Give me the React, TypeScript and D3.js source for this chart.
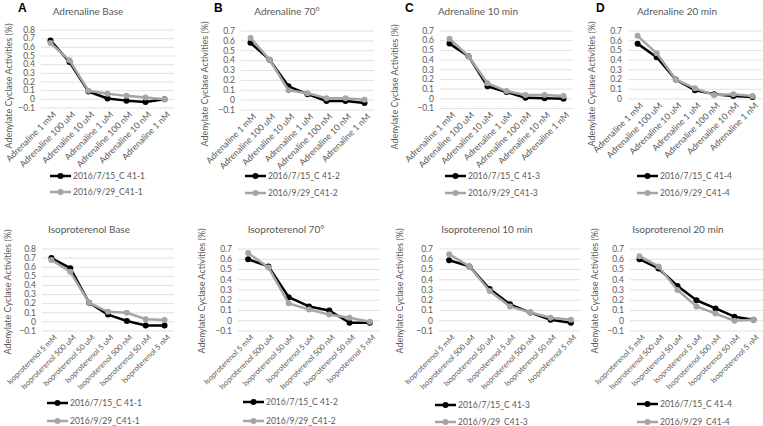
import React from "react";
import * as d3 from "d3";

const adrCats = ["Adrenaline 1 mM", "Adrenaline 100 uM", "Adrenaline 10 uM", "Adrenaline 1 uM", "Adrenaline 100 nM", "Adrenaline 10 nM", "Adrenaline 1 nM"];
const isoCats = ["Isoproterenol 5 mM", "Isoproterenol 500 uM", "Isoproterenol 50 uM", "Isoproterenol 5 uM", "Isoproterenol 500 nM", "Isoproterenol 50 nM", "Isoproterenol 5 nM"];

const titles = ["Adrenaline Base", "Adrenaline 70°", "Adrenaline 10 min", "Adrenaline 20 min", "Isoproterenol Base", "Isoproterenol 70°", "Isoproterenol 10 min", "Isoproterenol 20 min"];
const letters = ["A", "B", "C", "D"];
const seriesA = ["2016/7/15_C 41-1", "2016/7/15_C 41-2", "2016/7/15_C 41-3", "2016/7/15_C 41-4"];
const seriesB = ["2016/9/29_C41-1", "2016/9/29_C41-2", "2016/9/29_C41-3", "2016/9/29_C41-4"];

const yMaxs = [0.8, 0.7, 0.7, 0.7, 0.8, 0.7, 0.7, 0.7];
const yMins = [-0.1, -0.1, -0.1, 0, -0.1, -0.1, -0.1, -0.1];

const blackVals = [
  [0.68, 0.43, 0.09, 0.01, -0.015, -0.03, 0.0],
  [0.58, 0.41, 0.14, 0.06, -0.01, -0.01, -0.03],
  [0.57, 0.44, 0.13, 0.07, 0.01, 0.005, 0.0],
  [0.57, 0.43, 0.2, 0.09, 0.05, 0.03, 0.02],
  [0.7, 0.59, 0.21, 0.08, 0.01, -0.04, -0.04],
  [0.6, 0.53, 0.23, 0.14, 0.1, -0.02, -0.02],
  [0.59, 0.53, 0.31, 0.16, 0.08, 0.01, -0.02],
  [0.6, 0.51, 0.34, 0.2, 0.12, 0.04, 0.01],
];
const grayVals = [
  [0.65, 0.45, 0.1, 0.065, 0.04, 0.02, 0.0],
  [0.63, 0.41, 0.1, 0.07, 0.02, 0.02, 0.005],
  [0.62, 0.44, 0.16, 0.08, 0.04, 0.04, 0.03],
  [0.65, 0.47, 0.2, 0.11, 0.04, 0.05, 0.03],
  [0.68, 0.55, 0.21, 0.11, 0.1, 0.03, 0.02],
  [0.66, 0.52, 0.17, 0.11, 0.06, 0.03, -0.01],
  [0.65, 0.53, 0.29, 0.14, 0.08, 0.03, 0.01],
  [0.63, 0.53, 0.3, 0.14, 0.07, 0.0, 0.01],
];

// layout per panel
const layout = [
  { x0: 41, x1: 174, yTop: 30, yBot: 108, titleX: 88, titleY: 15, axX: 9, axY: 86, legX: 50, legY1: 176, legY2: 192, letX: 18 },
  { x0: 241, x1: 374, yTop: 31, yBot: 110, titleX: 287, titleY: 15, axX: 205, axY: 84, legX: 245, legY1: 176, legY2: 193, letX: 214 },
  { x0: 440, x1: 573, yTop: 31, yBot: 108.5, titleX: 478, titleY: 15, axX: 395, axY: 87, legX: 445, legY1: 176, legY2: 193, letX: 405 },
  { x0: 628, x1: 762, yTop: 31, yBot: 99, titleX: 677, titleY: 15, axX: 592, axY: 84, legX: 637, legY1: 176, legY2: 193, letX: 596 },
  { x0: 42, x1: 174, yTop: 249, yBot: 331, titleX: 89, titleY: 233, axX: 8, axY: 292, legX: 47, legY1: 403, legY2: 421, letX: 0 },
  { x0: 238, x1: 380, yTop: 249, yBot: 331, titleX: 286, titleY: 233, axX: 202, axY: 291, legX: 243, legY1: 402, legY2: 421, letX: 0 },
  { x0: 439, x1: 581, yTop: 249, yBot: 331, titleX: 487, titleY: 233, axX: 400, axY: 291, legX: 435, legY1: 405, legY2: 422, letX: 0 },
  { x0: 630, x1: 763, yTop: 249, yBot: 331, titleX: 678, titleY: 233, axX: 595, axY: 291, legX: 637, legY1: 404, legY2: 422, letX: 0 },
];

const FONT = "Lato, 'Open Sans', sans-serif";
const TXT = "#595959";
const GRAY = "#a5a5a5";

function Panel({ i }: { i: number }) {
  const L = layout[i];
  const cats = i < 4 ? adrCats : isoCats;
  const catFont = i < 4 ? 8.8 : 7.7;
  const x = d3.scalePoint<string>().domain(cats).range([L.x0, L.x1]).padding(0.5);
  const y = d3.scaleLinear().domain([yMins[i], yMaxs[i]]).range([L.yBot, L.yTop]);
  const ticks = d3.range(Math.round(yMins[i] * 10), Math.round(yMaxs[i] * 10) + 1).map((v) => v / 10);
  const line = d3
    .line<number>()
    .x((_, j) => x(cats[j]) as number)
    .y((d) => y(d));
  const fmt = (v: number) => (v === 0 ? "0" : d3.format(".1f")(v));
  const series = [
    { vals: blackVals[i], color: "#000", name: seriesA[i % 4] },
    { vals: grayVals[i], color: GRAY, name: seriesB[i % 4] },
  ];
  return (
    <g>
      {i < 4 && (
        <text x={L.letX} y={12} fontFamily="Arial, sans-serif" fontWeight="bold" fontSize={12} fill="#000">
          {letters[i]}
        </text>
      )}
      <text x={L.titleX} y={L.titleY} textAnchor="middle" fontFamily={FONT} fontSize={10} fill={TXT}>
        {titles[i]}
      </text>
      {ticks.map((t) => (
        <g key={t}>
          <line x1={L.x0} x2={L.x1} y1={y(t)} y2={y(t)} stroke="#d9d9d9" strokeWidth={0.8} />
          <text x={L.x0 - 6} y={y(t)} dy="0.33em" textAnchor="end" fontFamily={FONT} fontSize={8.5} fill={TXT}>
            {fmt(t)}
          </text>
        </g>
      ))}
      <text
        transform={`translate(${L.axX},${L.axY}) rotate(-90)`}
        textAnchor="middle"
        dy="0.35em"
        fontFamily={FONT}
        fontSize={9}
        fill={TXT}
      >
        Adenylate Cyclase Activities (%)
      </text>
      {cats.map((c) => (
        <text
          key={c}
          transform={`translate(${(x(c) as number) + 4},${L.yBot + 5}) rotate(-45)`}
          textAnchor="end"
          dy="0.35em"
          fontFamily={FONT}
          fontSize={catFont}
          fill={TXT}
        >
          {c}
        </text>
      ))}
      {series.map((s, k) => (
        <g key={k}>
          <path d={line(s.vals) as string} fill="none" stroke={s.color} strokeWidth={2.5} strokeLinejoin="round" />
          {s.vals.map((v, j) => (
            <circle key={j} cx={x(cats[j]) as number} cy={y(v)} r={3} fill={s.color} />
          ))}
        </g>
      ))}
      {series.map((s, k) => {
        const ly = k === 0 ? L.legY1 : L.legY2;
        return (
          <g key={"l" + k}>
            <line x1={L.legX} x2={L.legX + 21} y1={ly} y2={ly} stroke={s.color} strokeWidth={2.5} />
            <circle cx={L.legX + 10.5} cy={ly} r={3} fill={s.color} />
            <text x={L.legX + 23} y={ly} dy="0.35em" fontFamily={FONT} fontSize={8.5} fill={TXT}>
              {s.name}
            </text>
          </g>
        );
      })}
    </g>
  );
}

export default function App() {
  return (
    <svg width={763} height={426} style={{ position: "absolute", left: 0, top: 0, background: "#fff" }}>
      <rect width={763} height={426} fill="#fff" />
      {d3.range(8).map((i) => (
        <Panel key={i} i={i} />
      ))}
    </svg>
  );
}
